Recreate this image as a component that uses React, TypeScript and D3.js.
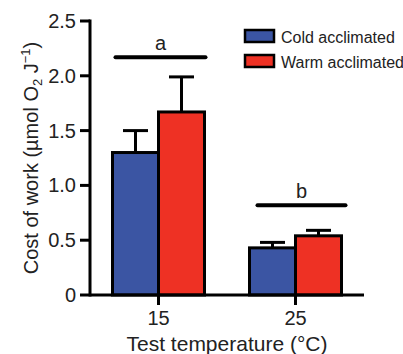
import React, { useEffect, useRef } from 'react';
import * as d3 from 'd3';

const temps = ['15', '25'];
const seriesNames = ['Cold acclimated', 'Warm acclimated'];
const seriesColors = ['#3b55a3', '#ee3124'];
const meanValues = [
  [1.30, 1.67],
  [0.43, 0.54],
];
const errorValues = [
  [0.20, 0.32],
  [0.05, 0.05],
];
const yTicks = [0, 0.5, 1.0, 1.5, 2.0, 2.5];
const sigLetters = ['a', 'b'];
const sigLevels = [2.17, 0.82];

const App = () => {
  const svgRef = useRef<SVGSVGElement>(null);
  const width = 403;
  const height = 354;

  useEffect(() => {
    const svg = d3.select(svgRef.current);
    svg.selectAll('*').remove();

    const font = 'Liberation Sans, Arial, sans-serif';
    const left = 90, right = 364, top = 21, bottom = 295;

    const x = d3.scalePoint().domain(temps).range([left, right]).padding(0.5);
    const y = d3.scaleLinear().domain([0, 2.5]).range([bottom, top]);
    const barW = 46;
    // significance bar extents relative to group centre
    const sigSpan = [[-43, 47], [-38, 50]];

    const g = svg.append('g');

    // bars + error bars
    temps.forEach((t, i) => {
      const cx = x(t)!;
      meanValues[i].forEach((v, j) => {
        const x0 = cx + (j - 1) * barW;
        const mid = x0 + barW / 2;
        const yt = y(v + errorValues[i][j]);
        g.append('line')
          .attr('x1', mid).attr('x2', mid)
          .attr('y1', y(v)).attr('y2', yt)
          .attr('stroke', 'black').attr('stroke-width', 3);
        g.append('line')
          .attr('x1', mid - 12.5).attr('x2', mid + 12.5)
          .attr('y1', yt).attr('y2', yt)
          .attr('stroke', 'black').attr('stroke-width', 3);
        g.append('rect')
          .attr('x', x0).attr('y', y(v))
          .attr('width', barW).attr('height', bottom - y(v))
          .attr('fill', seriesColors[j])
          .attr('stroke', 'black').attr('stroke-width', 3);
      });

      // significance line
      const sy = y(sigLevels[i]);
      g.append('line')
        .attr('x1', cx + sigSpan[i][0]).attr('x2', cx + sigSpan[i][1])
        .attr('y1', sy).attr('y2', sy)
        .attr('stroke', 'black').attr('stroke-width', 4).attr('stroke-linecap', 'round');
      g.append('text')
        .attr('x', cx + (sigSpan[i][0] + sigSpan[i][1]) / 2).attr('y', sy - 7)
        .attr('text-anchor', 'middle')
        .attr('font-family', font).attr('font-size', 20).attr('fill', '#222')
        .text(sigLetters[i]);
    });

    // Y axis
    g.append('line')
      .attr('x1', left).attr('x2', left).attr('y1', top - 1.5).attr('y2', bottom + 1.5)
      .attr('stroke', 'black').attr('stroke-width', 3);
    yTicks.forEach(tk => {
      g.append('line')
        .attr('x1', left - 10).attr('x2', left).attr('y1', y(tk)).attr('y2', y(tk))
        .attr('stroke', 'black').attr('stroke-width', 3);
      g.append('text')
        .attr('x', left - 14).attr('y', y(tk)).attr('dy', '0.35em')
        .attr('text-anchor', 'end')
        .attr('font-family', font).attr('font-size', 20).attr('fill', '#222')
        .text(tk === 0 ? '0' : tk.toFixed(1));
    });

    // X axis
    g.append('line')
      .attr('x1', left).attr('x2', right).attr('y1', bottom).attr('y2', bottom)
      .attr('stroke', 'black').attr('stroke-width', 3);
    temps.forEach(t => {
      g.append('line')
        .attr('x1', x(t)).attr('x2', x(t)).attr('y1', bottom).attr('y2', bottom + 10)
        .attr('stroke', 'black').attr('stroke-width', 3);
      g.append('text')
        .attr('x', x(t)).attr('y', bottom + 30)
        .attr('text-anchor', 'middle')
        .attr('font-family', font).attr('font-size', 20).attr('fill', '#222')
        .text(t);
    });

    // axis labels
    g.append('text')
      .attr('x', 227).attr('y', 351)
      .attr('text-anchor', 'middle')
      .attr('font-family', font).attr('font-size', 21).attr('fill', '#222')
      .text('Test temperature (°C)');

    const yl = g.append('text')
      .attr('transform', 'translate(38,158) rotate(-90)')
      .attr('text-anchor', 'middle')
      .attr('font-family', font).attr('font-size', 20).attr('fill', '#222');
    yl.append('tspan').text('Cost of work (µmol O');
    yl.append('tspan').attr('font-size', 13).attr('dy', 4).text('2');
    yl.append('tspan').attr('dy', -4).text(' J');
    yl.append('tspan').attr('font-size', 13).attr('dy', -8).text('−1');
    yl.append('tspan').attr('dy', 8).text(')');

    // legend
    seriesNames.forEach((name, j) => {
      const ly = 29 + j * 25;
      g.append('rect')
        .attr('x', 245).attr('y', ly + 1)
        .attr('width', 29).attr('height', 12)
        .attr('fill', seriesColors[j])
        .attr('stroke', 'black').attr('stroke-width', 2.5);
      g.append('text')
        .attr('x', 281).attr('y', ly + 8).attr('dy', '0.35em')
        .attr('font-family', font).attr('font-size', 16).attr('fill', '#222')
        .text(name);
    });
  }, []);

  return (
    <svg ref={svgRef} width={width} height={height}
      style={{ position: 'absolute', left: 0, top: 0, background: 'white' }} />
  );
};

export default App;
